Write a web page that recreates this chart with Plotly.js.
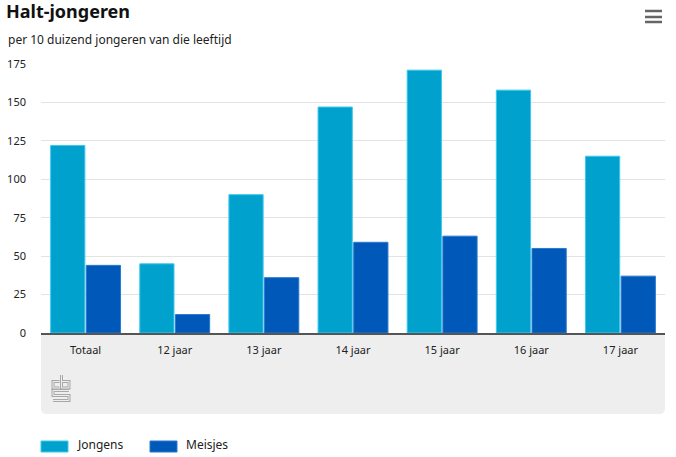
<!DOCTYPE html>
<html>
<head>
<meta charset="utf-8">
<script src="https://cdn.plot.ly/plotly-3.0.1.min.js"></script>
<style>
html,body{margin:0;padding:0;background:#fff;}
#chart{width:676px;height:457px;}
</style>
</head>
<body>
<div id="chart"></div>
<script>
const categories = ["Totaal", "12 jaar", "13 jaar", "14 jaar", "15 jaar", "16 jaar", "17 jaar"];
const seriesNames = ["Jongens", "Meisjes"];
const jongens = [122, 45, 90, 147, 171, 158, 115];
const meisjes = [44, 12, 36, 59, 63, 55, 37];
const yTicks = [0, 25, 50, 75, 100, 125, 150, 175];
const titleText = "Halt-jongeren";
const subtitleText = "per 10 duizend jongeren van die leeftijd";

const colors = ["#00a1cd", "#0058b8"];
const edge = ["#3cc8ee", "#2a78d0"];
const FONT = "Noto Sans, sans-serif";

// plot-area geometry (pixels)
const W = 676, H = 457, L = 41, R = 11, T = 64, B = 124;
const PW = W - L - R, PH = H - T - B;
const px = x => (x - L) / PW;
const py = y => (H - B - y) / PH;

const traces = [jongens, meisjes].map((vals, i) => ({
  type: "bar",
  x: categories,
  y: vals,
  name: seriesNames[i],
  marker: {color: colors[i], line: {color: edge[i], width: 1}},
  hoverinfo: "x+y+name",
  showlegend: false
}));

// gray footer panel with rounded bottom corners
const x0 = px(41), x1 = px(665), yTop = py(334), yBot = py(414);
const rx = 6 / PW, ry = 6 / PH;
const panel = `M${x0},${yTop} L${x1},${yTop} L${x1},${yBot + ry} Q${x1},${yBot} ${x1 - rx},${yBot} L${x0 + rx},${yBot} Q${x0},${yBot} ${x0},${yBot + ry} Z`;

function pth(pts) {
  return "M" + pts.map(p => `${px(p[0])},${py(p[1])}`).join(" L");
}
const logoPaths = [
  [[59.5, 381.5], [53, 381.5], [53, 388], [59.5, 388]],
  [[61.5, 375], [61.5, 388], [69, 388], [69, 381.5], [61.5, 381.5]],
  [[69, 390.5], [53, 390.5], [53, 395.5], [69, 395.5], [69, 400.5], [53, 400.5]]
];
const shapes = [
  {type: "path", xref: "paper", yref: "paper", path: panel, fillcolor: "#eeeeee", line: {width: 0}, layer: "below"}
];
logoPaths.forEach(p => shapes.push({type: "path", xref: "paper", yref: "paper", path: pth(p), line: {color: "#a8a8a8", width: 3}}));
logoPaths.forEach(p => shapes.push({type: "path", xref: "paper", yref: "paper", path: pth(p), line: {color: "#eeeeee", width: 1}}));
// hamburger menu
[11, 17, 22].forEach(y => shapes.push({type: "line", xref: "paper", yref: "paper", x0: px(645), x1: px(662), y0: py(y), y1: py(y), line: {color: "#666666", width: 2.5}}));
// legend swatches
const legendX = [41, 150];
legendX.forEach((lx, i) => shapes.push({type: "rect", xref: "paper", yref: "paper", x0: px(lx), x1: px(lx + 27), y0: py(441), y1: py(452), fillcolor: colors[i], line: {width: 1, color: edge[i]}}));

const annotations = [
  {text: subtitleText, xref: "paper", yref: "paper", x: px(6), y: py(39), xanchor: "left", yanchor: "middle", showarrow: false, font: {family: FONT, size: 12, color: "#222"}}
];
legendX.forEach((lx, i) => annotations.push({text: seriesNames[i], xref: "paper", yref: "paper", x: px(lx + 34), y: py(444), xanchor: "left", yanchor: "middle", showarrow: false, font: {family: FONT, size: 12, color: "#222"}}));

const layout = {
  width: W, height: H,
  margin: {l: L, r: R, t: T, b: B, pad: 0},
  paper_bgcolor: "#ffffff",
  plot_bgcolor: "rgba(0,0,0,0)",
  font: {family: FONT, size: 11, color: "#222"},
  title: {text: "<b>" + titleText + "</b>", x: 6 / W, xanchor: "left", xref: "container", y: 1 - 12 / H, yanchor: "middle", yref: "container", font: {family: FONT, size: 18, color: "#111"}},
  barmode: "group",
  bargap: 0.2,
  bargroupgap: 0.04,
  xaxis: {
    type: "category",
    showgrid: false,
    showline: true, linecolor: "#555555", linewidth: 2,
    ticks: "", ticklabelstandoff: 6,
    tickfont: {family: FONT, size: 11, color: "#222"},
    fixedrange: true
  },
  yaxis: {
    range: [0, 175],
    tickvals: yTicks,
    ticktext: yTicks.map(String),
    showgrid: true, gridcolor: "#e3e3e3", gridwidth: 1,
    zeroline: false, showline: false,
    ticks: "", ticklabelstandoff: 14,
    tickfont: {family: FONT, size: 11, color: "#222"},
    fixedrange: true
  },
  shapes: shapes,
  annotations: annotations,
  showlegend: false
};

Plotly.newPlot("chart", traces, layout, {displayModeBar: false, staticPlot: true});
</script>
</body>
</html>
